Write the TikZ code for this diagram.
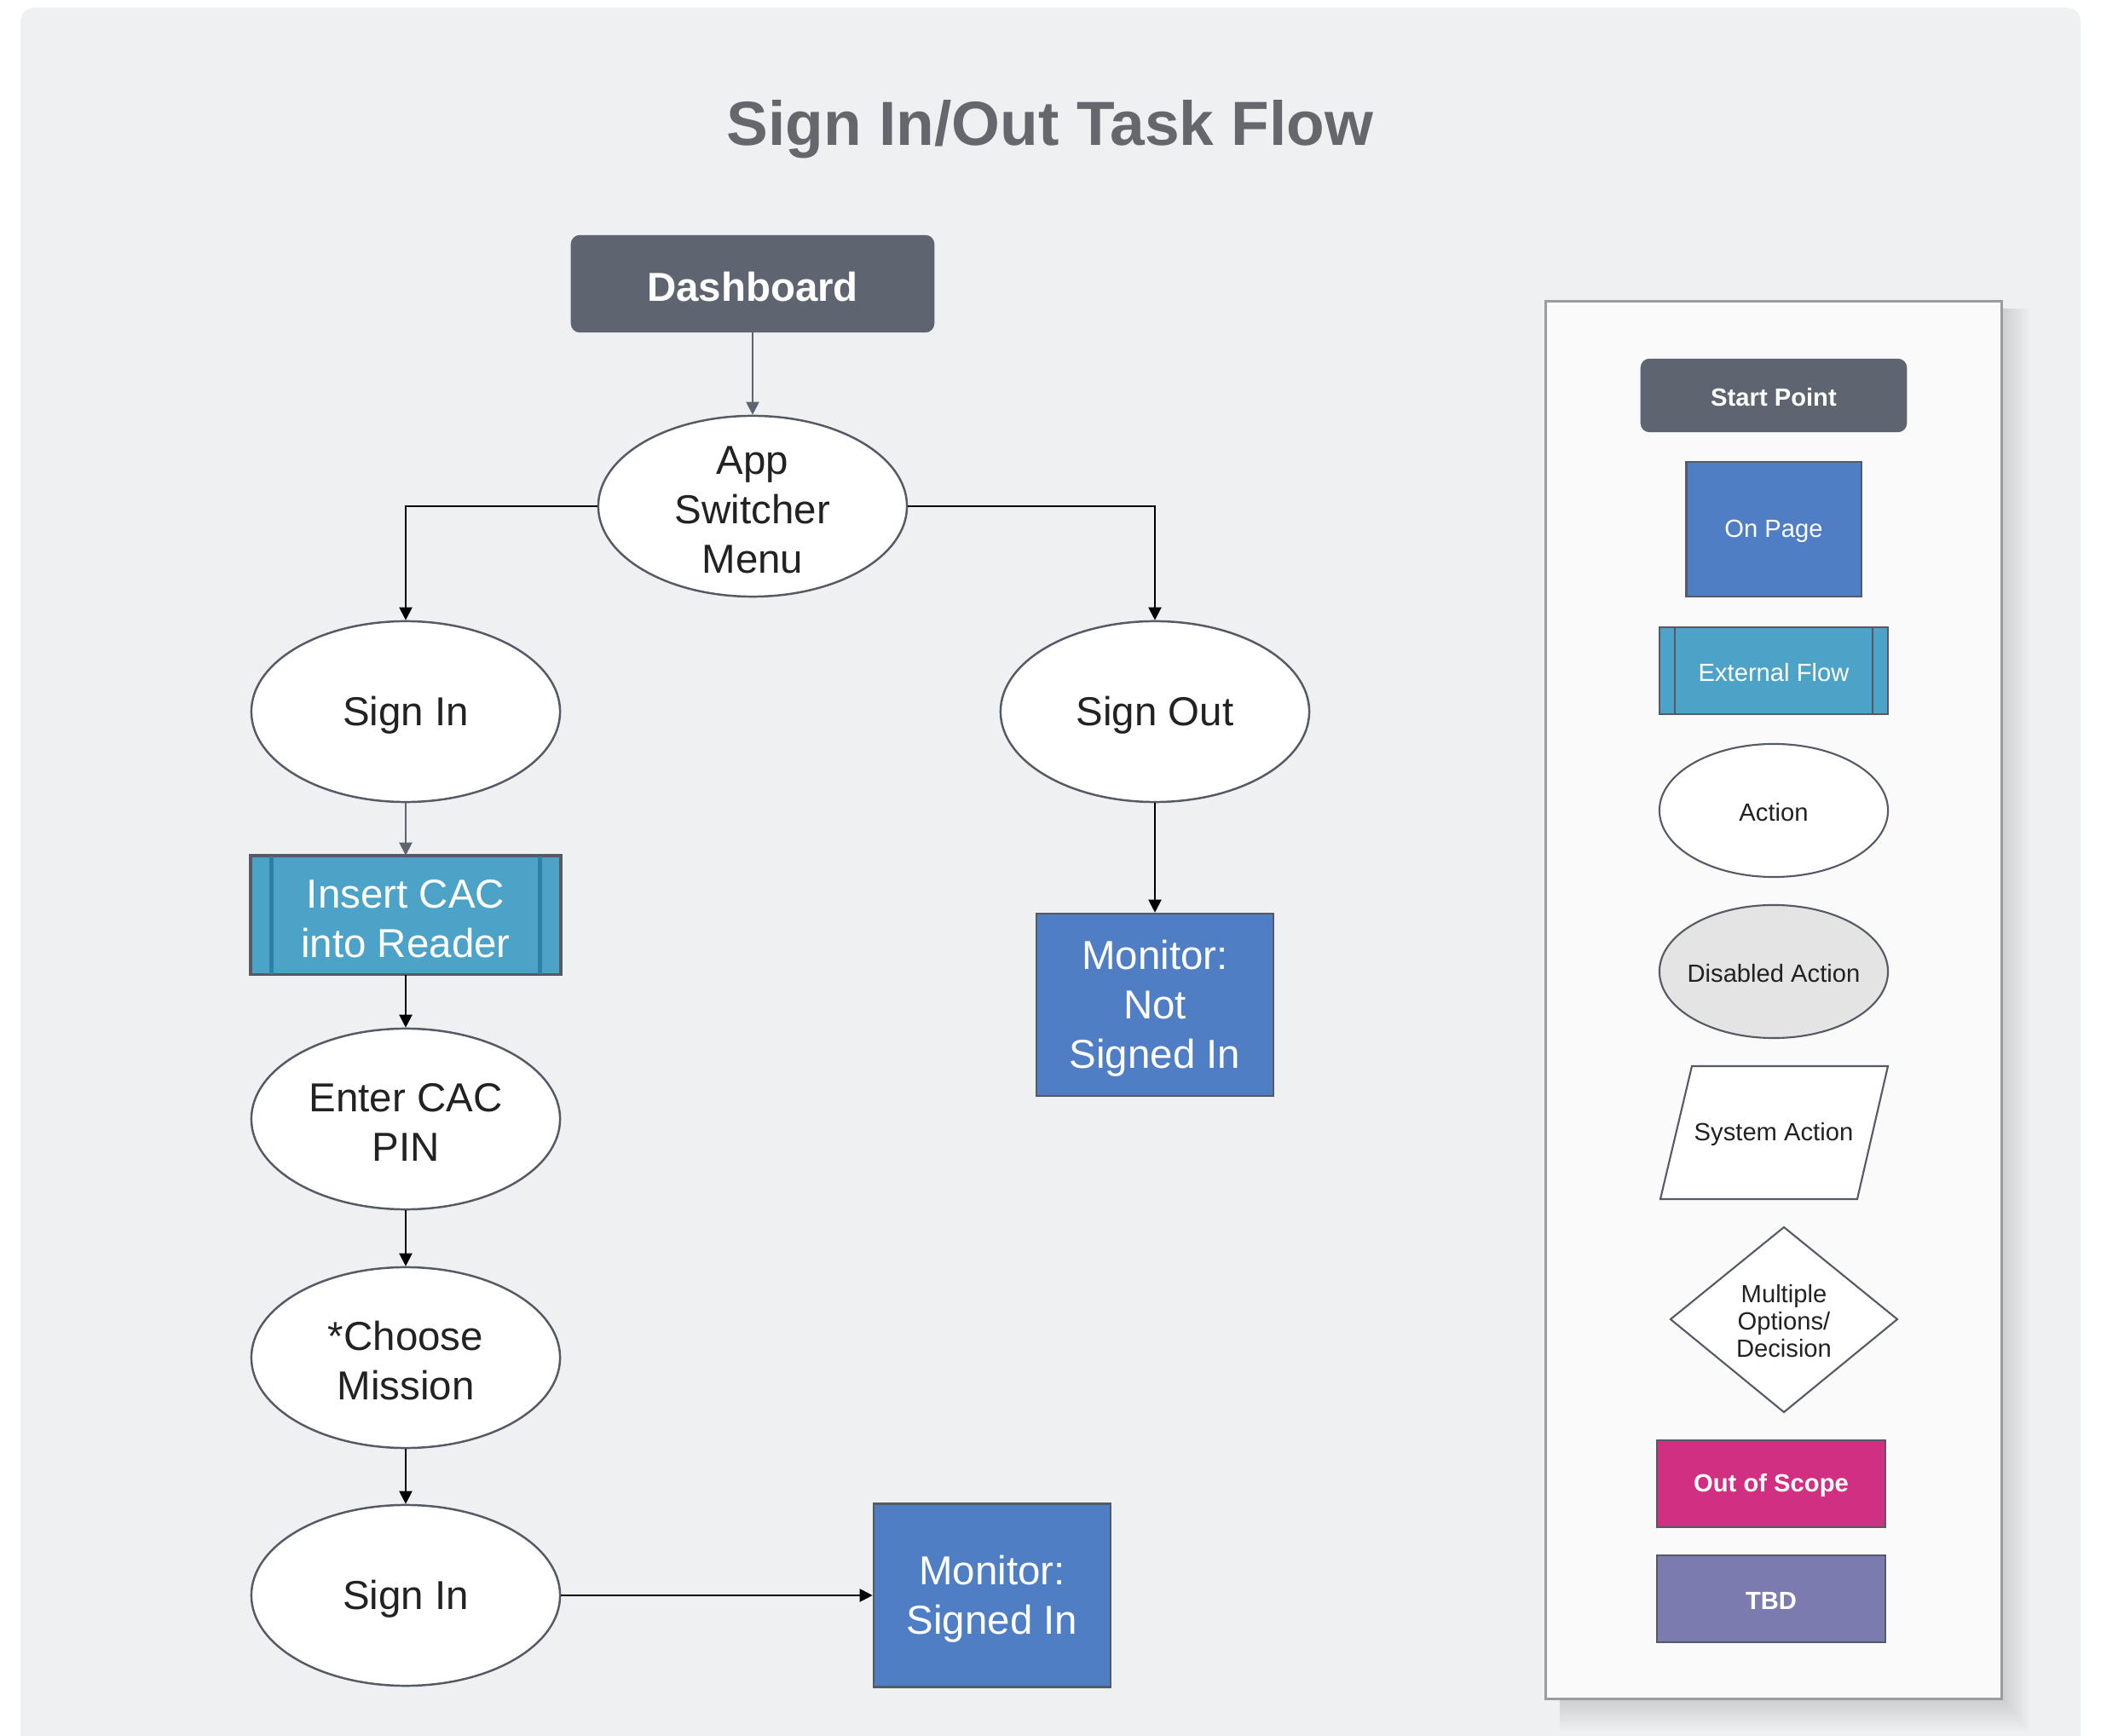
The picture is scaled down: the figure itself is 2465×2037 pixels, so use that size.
\documentclass[tikz,border=0pt]{standalone}
\usepackage{fontspec}
\setmainfont{Liberation Sans}
\usetikzlibrary{shapes.geometric,arrows.meta}
\definecolor{bgpanel}{HTML}{EFF0F2}
\definecolor{startc}{HTML}{5E6470}
\definecolor{edgec}{HTML}{555A64}
\definecolor{bluec}{HTML}{4F7EC4}
\definecolor{tealc}{HTML}{4DA3C7}
\definecolor{tealbar}{HTML}{2E80A8}
\definecolor{magc}{HTML}{D12F82}
\definecolor{tbdc}{HTML}{7B7BAF}
\definecolor{disc}{HTML}{E4E4E4}
\definecolor{titlec}{HTML}{66676D}
\definecolor{txtc}{HTML}{222222}
\definecolor{legbg}{HTML}{FAFAFA}
\definecolor{legborder}{HTML}{9C9C9C}
\begin{document}
\begin{tikzpicture}[x=0.01cm,y=-0.01cm,
  nodefont/.style={font=\fontsize{13.5}{16.5}\selectfont},
  legfont/.style={font=\fontsize{8.3}{9.1}\selectfont},
  act/.style={ellipse, draw=edgec, line width=0.7pt, fill=white,
    minimum width=3.62cm, minimum height=2.12cm, inner sep=0pt},
  acttext/.style={nodefont, text=txtc, align=center, inner sep=0pt, yshift=-0.04cm},
  wtext/.style={nodefont, text=white, align=center, inner sep=0pt, yshift=-0.04cm},
  startbox/.style={rectangle, rounded corners=0.1cm, fill=startc, draw=startc, inner sep=0pt},
  pagebox/.style={rectangle, draw=edgec, line width=0.7pt, fill=bluec, inner sep=0pt},
  extbox/.style={rectangle, draw=edgec, line width=0.7pt, fill=tealc, inner sep=0pt},
  legact/.style={ellipse, draw=edgec, line width=0.6pt, fill=white,
    minimum width=2.68cm, minimum height=1.56cm, inner sep=0pt},
  legtext/.style={legfont, text=txtc, align=center, inner sep=0pt, yshift=-0.02cm},
  legwtext/.style={legfont, text=white, align=center, inner sep=0pt, yshift=-0.02cm},
  legbtext/.style={font=\bfseries\fontsize{8.3}{9.1}\selectfont, text=white, inner sep=0pt, yshift=-0.02cm},
  legbox/.style={rectangle, draw=edgec, line width=0.6pt, inner sep=0pt,
    minimum width=2.67cm, minimum height=1.02cm},
  conn/.style={-{Triangle[length=0.15cm,width=0.15cm]}, line width=0.6pt, draw=black},
  gconn/.style={conn, draw=startc}
]
\useasboundingbox (0,0) rectangle (2465,2037);
\fill[white] (0,0) rectangle (2465,2037);
\fill[bgpanel, rounded corners=0.16cm] (24,9) rectangle (2441,2080);

% title
\node[anchor=base, text=titlec, font=\bfseries\fontsize{20.8}{25}\selectfont] (title) at (1232,171) {Sign In/Out Task Flow};

% main flow
\node[startbox, minimum width=4.25cm, minimum height=1.13cm] (dash) at (883,333) {};
\node[wtext, font=\bfseries\fontsize{13.5}{16.5}\selectfont] (dasht) at (dash.center) {Dashboard};

\node[act] (asm) at (883,594) {};
\node[acttext] (asmt) at (asm.center) {App\\Switcher\\Menu};

\node[act] (si1) at (476,835) {};
\node[acttext] (si1t) at (si1.center) {Sign In};

\node[act] (so) at (1355,835) {};
\node[acttext] (sot) at (so.center) {Sign Out};

\node[extbox, minimum width=3.63cm, minimum height=1.38cm] (ins) at (476,1074) {};
\draw[tealbar, line width=1.4pt] ([xshift=0.25cm]ins.north west) -- ([xshift=0.25cm]ins.south west);
\draw[tealbar, line width=1.4pt] ([xshift=-0.25cm]ins.north east) -- ([xshift=-0.25cm]ins.south east);
\draw[edgec, line width=0.7pt] (ins.north west) rectangle (ins.south east);
\node[wtext] (inst) at (ins.center) {Insert CAC\\into Reader};

\node[act] (pin) at (476,1313) {};
\node[acttext] (pint) at (pin.center) {Enter CAC\\PIN};

\node[act] (cm) at (476,1593) {};
\node[acttext] (cmt) at (cm.center) {*Choose\\Mission};

\node[act] (si2) at (476,1872) {};
\node[acttext] (si2t) at (si2.center) {Sign In};

\node[pagebox, minimum width=2.78cm, minimum height=2.14cm] (mns) at (1355,1179) {};
\node[wtext] (mnst) at (mns.center) {Monitor:\\Not\\Signed In};
\node[pagebox, minimum width=2.78cm, minimum height=2.15cm] (ms) at (1164,1872) {};
\node[wtext] (mst) at (ms.center) {Monitor:\\Signed In};

% connectors
\draw[gconn] (dash.south) -- (asm.north);
\draw[conn] (asm.west) -| (si1.north);
\draw[conn] (asm.east) -| (so.north);
\draw[gconn] (si1.south) -- (ins.north);
\draw[conn] (so.south) -- (mns.north);
\draw[conn] (ins.south) -- (pin.north);
\draw[conn] (pin.south) -- (cm.north);
\draw[conn] (cm.south) -- (si2.north);
\draw[conn] (si2.east) -- (ms.west);

% legend shadow and box
\foreach \i in {1,...,16} {
  \fill[black, opacity=0.008] (1830,362) rectangle ({2350+2*\i},{1995+2.3*\i});
}
\node[rectangle, fill=legbg, draw=legborder, line width=0.85pt, inner sep=0pt,
  minimum width=5.34cm, minimum height=16.39cm] (leg) at (2081,1173.5) {};

\node[startbox, minimum width=3.11cm, minimum height=0.85cm] (lsp) at (2081,464) {};
\node[legbtext] (lspt) at (lsp.center) {Start Point};
\node[pagebox, line width=0.6pt, minimum width=2.05cm, minimum height=1.58cm] (lop) at (2081,621) {};
\node[legwtext] (lopt) at (lop.center) {On Page};
\node[extbox, line width=0.6pt, minimum width=2.67cm, minimum height=1.02cm] (lef) at (2081,787) {};
\draw[edgec, line width=0.6pt] ([xshift=0.19cm]lef.north west) -- ([xshift=0.19cm]lef.south west);
\draw[edgec, line width=0.6pt] ([xshift=-0.19cm]lef.north east) -- ([xshift=-0.19cm]lef.south east);
\node[legwtext] (left) at (lef.center) {External Flow};

\node[legact] (lac) at (2081,951) {};
\node[legtext] (lact) at (lac.center) {Action};
\node[legact, fill=disc] (lda) at (2081,1140) {};
\node[legtext] (ldat) at (lda.center) {Disabled Action};

\draw[edgec, line width=0.6pt, fill=white] (1985,1251) -- (2215,1251) -- (2179,1407) -- (1948,1407) -- cycle;
\node[legtext] (lsat) at (2081,1329) {System Action};

\draw[edgec, line width=0.6pt, fill=white] (2093,1440) -- (2226,1548) -- (2093,1657) -- (1960,1548) -- cycle;
\node[legtext] (ldect) at (2093,1548) {Multiple\\Options/\\Decision};

\node[legbox, fill=magc] (los) at (2078,1741) {};
\node[legbtext] (lost) at (los.center) {Out of Scope};
\node[legbox, fill=tbdc] (ltbd) at (2078,1876) {};
\node[legbtext] (ltbdt) at (ltbd.center) {TBD};
\end{tikzpicture}
\end{document}
